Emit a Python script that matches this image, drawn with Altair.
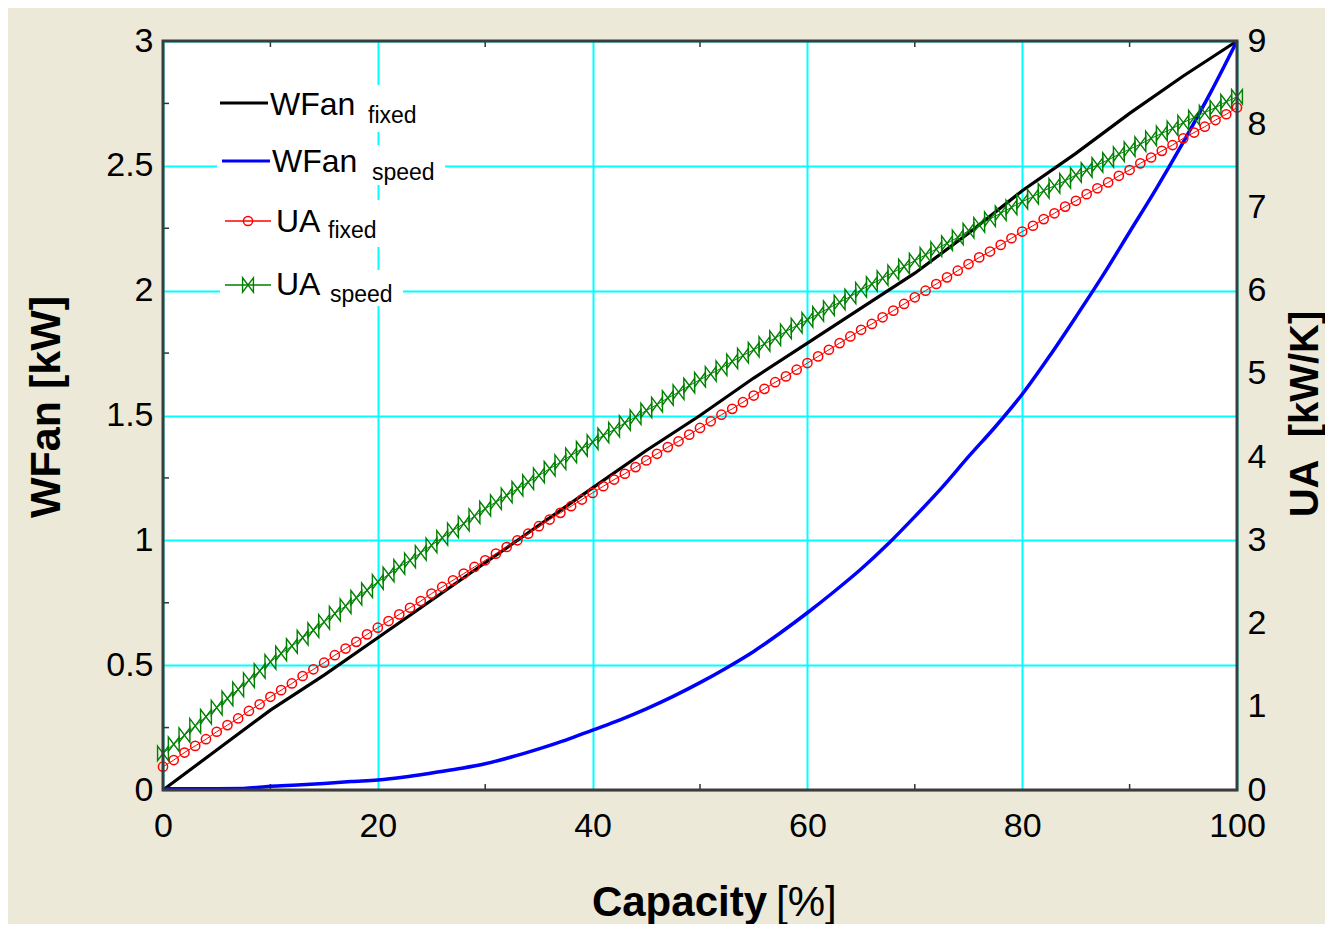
import altair as alt
import pandas as pd

# ---------------- data ----------------
CAP_COARSE = [0, 5, 10, 15, 20, 25, 30, 35, 40, 45, 50, 55, 60, 65, 70, 75, 80, 85, 90, 95, 100]
WFAN_FIXED = [0.0, 0.16, 0.32, 0.46, 0.61, 0.76, 0.91, 1.06, 1.21, 1.36, 1.50,
              1.65, 1.79, 1.93, 2.07, 2.23, 2.40, 2.55, 2.71, 2.86, 3.0]

CAP_HALF = [0, 2.5, 5, 7.5, 10, 12.5, 15, 17.5, 20, 22.5, 25, 27.5, 30, 32.5, 35, 37.5, 40,
            42.5, 45, 47.5, 50, 52.5, 55, 57.5, 60, 62.5, 65, 67.5, 70, 72.5, 75, 77.5, 80,
            82.5, 85, 87.5, 90, 92.5, 95, 97.5, 100]
WFAN_SPEED = [0.005, 0.005, 0.005, 0.006, 0.015, 0.02, 0.026, 0.034, 0.04, 0.052, 0.068,
              0.085, 0.105, 0.133, 0.165, 0.2, 0.24, 0.28, 0.325, 0.375, 0.43, 0.49, 0.555,
              0.63, 0.71, 0.795, 0.885, 0.985, 1.095, 1.21, 1.335, 1.455, 1.585, 1.735,
              1.895, 2.06, 2.235, 2.41, 2.595, 2.79, 3.0]

CAP_FINE = list(range(0, 101))
UA_FIXED = [0.28, 0.36, 0.45, 0.53, 0.61, 0.70, 0.78, 0.86, 0.95, 1.03,
            1.12, 1.20, 1.28, 1.37, 1.45, 1.53, 1.62, 1.70, 1.78, 1.87,
            1.95, 2.03, 2.11, 2.19, 2.27, 2.36, 2.44, 2.52, 2.60, 2.68,
            2.76, 2.84, 2.92, 3.00, 3.08, 3.17, 3.25, 3.33, 3.41, 3.49,
            3.57, 3.65, 3.73, 3.80, 3.88, 3.96, 4.04, 4.12, 4.19, 4.27,
            4.35, 4.43, 4.51, 4.58, 4.66, 4.74, 4.82, 4.90, 4.97, 5.05,
            5.13, 5.21, 5.29, 5.37, 5.45, 5.53, 5.60, 5.68, 5.76, 5.84,
            5.92, 6.00, 6.08, 6.16, 6.24, 6.32, 6.40, 6.47, 6.55, 6.63,
            6.71, 6.78, 6.86, 6.93, 7.01, 7.08, 7.16, 7.23, 7.30, 7.38,
            7.45, 7.53, 7.60, 7.68, 7.75, 7.83, 7.90, 7.97, 8.05, 8.12,
            8.20]
UA_SPEED = [0.44, 0.55, 0.66, 0.77, 0.88, 0.99, 1.10, 1.21, 1.32, 1.43,
            1.54, 1.64, 1.73, 1.83, 1.92, 2.02, 2.12, 2.21, 2.31, 2.40,
            2.50, 2.59, 2.68, 2.76, 2.85, 2.94, 3.03, 3.12, 3.20, 3.29,
            3.38, 3.46, 3.54, 3.62, 3.70, 3.78, 3.86, 3.94, 4.02, 4.10,
            4.18, 4.26, 4.33, 4.41, 4.48, 4.56, 4.63, 4.71, 4.78, 4.86,
            4.93, 5.00, 5.07, 5.15, 5.22, 5.29, 5.36, 5.43, 5.51, 5.58,
            5.65, 5.72, 5.79, 5.86, 5.93, 6.01, 6.08, 6.15, 6.22, 6.29,
            6.36, 6.43, 6.50, 6.57, 6.64, 6.72, 6.79, 6.86, 6.93, 7.00,
            7.07, 7.13, 7.20, 7.26, 7.32, 7.39, 7.45, 7.51, 7.57, 7.64,
            7.70, 7.76, 7.83, 7.89, 7.95, 8.02, 8.08, 8.14, 8.20, 8.27,
            8.33]

X_TICKS = [0, 20, 40, 60, 80, 100]
X_MINOR = [10, 30, 50, 70, 90]
W_TICKS = [0, 0.5, 1, 1.5, 2, 2.5, 3]
W_MINOR = [0.25, 0.75, 1.25, 1.75, 2.25, 2.75]
UA_TICKS = [0, 1, 2, 3, 4, 5, 6, 7, 8, 9]

LEG_MAIN = ["WFan", "WFan", "UA", "UA"]
LEG_SUB = ["fixed", "speed", "fixed", "speed"]

# ---------------- styling ----------------
PW, PH = 1074, 749
FONT = "Liberation Sans"
CYAN = "#00FFFF"
BLACK = "#000000"
BLUE = "#0000FF"
RED = "#FF0000"
GREEN = "#008000"
BG = "#ECE9D8"
BOWTIE = "M-0.75,-1L0.75,1L0.75,-1L-0.75,1Z"
RED_SIZE = 85
GREEN_SIZE = 210

x_axis = alt.Axis(values=X_TICKS, grid=True, gridColor=CYAN, gridWidth=2, ticks=False,
                  domain=False, labelFont=FONT, labelFontSize=34, labelColor="black",
                  labelPadding=19, labelFlush=False, labelOverlap=False, title=None, format="d")
X = alt.X("cap:Q", scale=alt.Scale(domain=[0, 100], nice=False, zero=False), axis=x_axis)

yl_axis = alt.Axis(values=W_TICKS, format="~g", grid=True, gridColor=CYAN, gridWidth=2,
                   ticks=False, domain=False, labelFont=FONT, labelFontSize=34,
                   labelColor="black", labelPadding=10, labelFlush=False,
                   labelOverlap=False, title=None)
YL = lambda f: alt.Y(f"{f}:Q", scale=alt.Scale(domain=[0, 3], nice=False, zero=False), axis=yl_axis)

yr_axis = alt.Axis(orient="right", values=UA_TICKS, format="d", grid=False, ticks=False,
                   domain=False, labelFont=FONT, labelFontSize=34, labelColor="black",
                   labelPadding=10, labelFlush=False, labelOverlap=False, title=None)
YR = alt.Y("ua:Q", scale=alt.Scale(domain=[0, 9], nice=False, zero=False), axis=yr_axis)

df_wf = pd.DataFrame({"cap": CAP_COARSE, "w": WFAN_FIXED})
df_ws = pd.DataFrame({"cap": CAP_HALF, "w": WFAN_SPEED})
df_uf = pd.DataFrame({"cap": CAP_FINE, "ua": UA_FIXED})
df_us = pd.DataFrame({"cap": CAP_FINE, "ua": UA_SPEED})
df_xm = pd.DataFrame({"cap": X_MINOR})
df_ym = pd.DataFrame({"w": W_MINOR})

black_line = alt.Chart(df_wf).mark_line(color=BLACK, strokeWidth=3.2).encode(x=X, y=YL("w"))
blue_line = alt.Chart(df_ws).mark_line(color=BLUE, strokeWidth=3.5,
                                       interpolate="monotone").encode(x=X, y=YL("w"))
y_minor = alt.Chart(df_ym).mark_rule(color="#333333", strokeWidth=1.5).encode(
    y=YL("w"), x=alt.value(0), x2=alt.value(6))
x_minor_b = alt.Chart(df_xm).mark_rule(color="#333333", strokeWidth=1.5).encode(
    x=X, y=alt.value(PH), y2=alt.value(PH - 6))
x_minor_t = alt.Chart(df_xm).mark_rule(color="#333333", strokeWidth=1.5).encode(
    x=X, y=alt.value(0), y2=alt.value(6))

left = alt.layer(x_minor_b, x_minor_t, y_minor, black_line, blue_line)

red_line = alt.Chart(df_uf).mark_line(color=RED, strokeWidth=1).encode(x=X, y=YR)
red_pts = alt.Chart(df_uf).mark_point(shape="circle", filled=False, color=RED, size=RED_SIZE,
                                      strokeWidth=1.5, opacity=1).encode(x=X, y=YR)
green_line = alt.Chart(df_us).mark_line(color=GREEN, strokeWidth=1).encode(x=X, y=YR)
green_pts = alt.Chart(df_us).mark_point(shape=BOWTIE, filled=False, color=GREEN, size=GREEN_SIZE,
                                        strokeWidth=1.4, opacity=1).encode(x=X, y=YR)

right = alt.layer(green_line, green_pts, red_line, red_pts)

# ---------------- legend, frame and titles ----------------
one = pd.DataFrame({"k": [0]})
rows = [
    dict(box=(55, 259, 44, 91), line=(57, 105, 62), col=BLACK, sw=3, mk=None,
         main=(107, 74), sub=(205, 82)),
    dict(box=(54, 282, 104, 144), line=(59, 107, 120), col=BLUE, sw=3, mk=None,
         main=(109, 131), sub=(209, 139)),
    dict(box=(57, 219, 159, 206), line=(62, 108, 180), col=RED, sw=1.5, mk="circle",
         main=(113, 191), sub=(165, 197)),
    dict(box=(57, 240, 229, 265), line=(62, 108, 244), col=GREEN, sw=1.5, mk=BOWTIE,
         main=(113, 254), sub=(167, 261)),
]
legend_layers = []
for i, r in enumerate(rows):
    bx1, bx2, by1, by2 = r["box"]
    legend_layers.append(alt.Chart(one).mark_rect(color="white").encode(
        x=alt.value(bx1), x2=alt.value(bx2), y=alt.value(by1), y2=alt.value(by2)))
    lx1, lx2, ly = r["line"]
    legend_layers.append(alt.Chart(one).mark_rule(color=r["col"], strokeWidth=r["sw"]).encode(
        x=alt.value(lx1), x2=alt.value(lx2), y=alt.value(ly)))
    if r["mk"] == "circle":
        legend_layers.append(alt.Chart(one).mark_point(shape="circle", filled=False, color=RED,
                                                       size=RED_SIZE, strokeWidth=1.5, opacity=1).encode(
            x=alt.value((lx1 + lx2) / 2), y=alt.value(ly)))
    elif r["mk"] is not None:
        legend_layers.append(alt.Chart(one).mark_point(shape=BOWTIE, filled=False, color=GREEN,
                                                       size=GREEN_SIZE, strokeWidth=1.4, opacity=1).encode(
            x=alt.value((lx1 + lx2) / 2), y=alt.value(ly)))
    mx, mb = r["main"]
    legend_layers.append(alt.Chart(one).mark_text(align="left", baseline="alphabetic", font=FONT,
                                                  fontSize=32, color="black").encode(
        x=alt.value(mx), y=alt.value(mb), text=alt.value(LEG_MAIN[i])))
    sx, sb = r["sub"]
    legend_layers.append(alt.Chart(one).mark_text(align="left", baseline="alphabetic", font=FONT,
                                                  fontSize=23, color="black").encode(
        x=alt.value(sx), y=alt.value(sb), text=alt.value(LEG_SUB[i])))

frame = alt.Chart(one).mark_rect(fillOpacity=0, stroke="#3c3c3c", strokeWidth=3).encode(
    x=alt.value(0), x2=alt.value(PW), y=alt.value(0), y2=alt.value(PH))

titles = [
    alt.Chart(one).mark_text(align="right", baseline="alphabetic", font=FONT, fontSize=42,
                             fontWeight="bold", color="black").encode(
        x=alt.value(604), y=alt.value(875), text=alt.value("Capacity")),
    alt.Chart(one).mark_text(align="left", baseline="alphabetic", font=FONT, fontSize=42,
                             color="black").encode(
        x=alt.value(613), y=alt.value(875), text=alt.value("[%]")),
    alt.Chart(one).mark_text(align="center", baseline="middle", font=FONT, fontSize=43,
                             fontWeight="bold", color="black", angle=270).encode(
        x=alt.value(-116), y=alt.value(366), text=alt.value("WFan [kW]")),
    alt.Chart(one).mark_text(align="center", baseline="middle", font=FONT, fontSize=40,
                             fontWeight="bold", color="black", angle=270).encode(
        x=alt.value(1143), y=alt.value(373), text=alt.value("UA\u00a0\u00a0[kW/K]")),
]

overlay = alt.layer(*legend_layers, frame, *titles)

chart = alt.layer(left, right, overlay).resolve_scale(y="independent").properties(
    width=PW, height=PH,
    autosize=alt.AutoSizeParams(type="none"),
    padding={"left": 155, "top": 33, "right": 88, "bottom": 134},
    background=BG,
).configure_view(fill="white", stroke=None)

chart.save("out.html", embed_options={"renderer": "svg", "actions": False})
